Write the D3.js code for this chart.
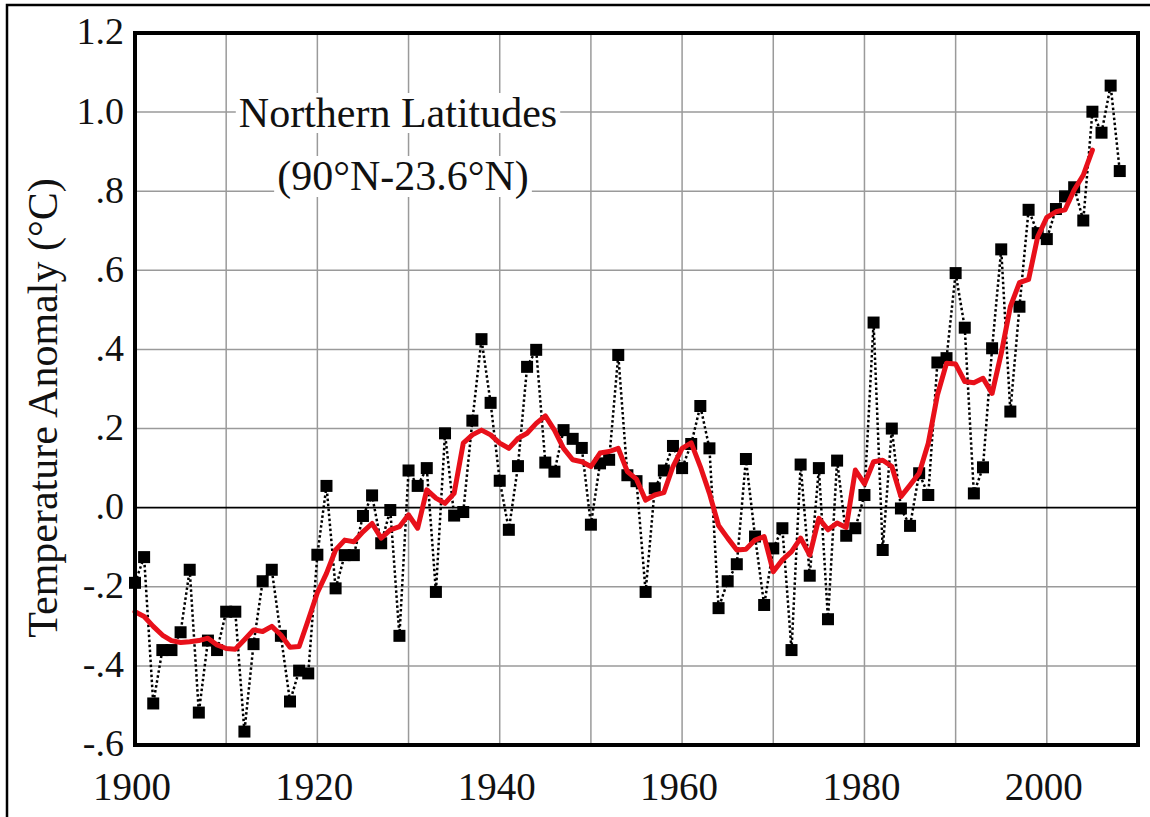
<!DOCTYPE html>
<html>
<head>
<meta charset="utf-8">
<script src="https://d3js.org/d3.v7.min.js"></script>
<style>
  body { margin: 0; background: #fff; }
  svg text { font-family: "Liberation Serif", "Times New Roman", serif; fill: #111; }
</style>
</head>
<body>
<div id="chart"></div>
<script>
// annual anomalies, 1900 .. 2008
var startYear = 1900;
var annual = [
  -0.19, -0.125, -0.495, -0.36, -0.36, -0.315, -0.157, -0.518, -0.336, -0.36,
  -0.263, -0.263, -0.566, -0.345, -0.186, -0.157, -0.324, -0.49, -0.412, -0.419,
  -0.119, 0.055, -0.204, -0.12, -0.12, -0.021, 0.031, -0.09, -0.006, -0.324,
  0.094, 0.055, 0.10, -0.213, 0.188, -0.02, -0.011, 0.22, 0.426, 0.265,
  0.068, -0.056, 0.105, 0.356, 0.399, 0.114, 0.091, 0.196, 0.174, 0.151,
  -0.043, 0.112, 0.121, 0.386, 0.082, 0.067, -0.213, 0.049, 0.094, 0.156,
  0.10, 0.161, 0.257, 0.15, -0.254, -0.186, -0.143, 0.123, -0.073, -0.246,
  -0.103, -0.052, -0.36, 0.109, -0.172, 0.10, -0.282, 0.119, -0.071, -0.052,
  0.032, 0.468, -0.107, 0.20, -0.002, -0.046, 0.087, 0.032, 0.367, 0.378,
  0.593, 0.455, 0.036, 0.102, 0.403, 0.653, 0.243, 0.508, 0.753, 0.694,
  0.679, 0.755, 0.787, 0.81, 0.726, 1.001, 0.948, 1.067, 0.851
];

// smoothed curve (red), 1900 .. 2005
var smooth = [
  -0.263, -0.275, -0.30, -0.322, -0.336, -0.341, -0.339, -0.336, -0.33, -0.347,
  -0.356, -0.358, -0.334, -0.309, -0.313, -0.30, -0.322, -0.353, -0.351, -0.284,
  -0.215, -0.166, -0.107, -0.082, -0.086, -0.061, -0.04, -0.077, -0.056, -0.048,
  -0.018, -0.052, 0.045, 0.024, 0.011, 0.036, 0.163, 0.184, 0.196, 0.184,
  0.163, 0.15, 0.175, 0.188, 0.213, 0.232, 0.196, 0.15, 0.121, 0.116,
  0.104, 0.138, 0.142, 0.15, 0.091, 0.072, 0.019, 0.032, 0.038, 0.104,
  0.15, 0.164, 0.104, 0.036, -0.045, -0.077, -0.107, -0.105, -0.082, -0.073,
  -0.162, -0.132, -0.111, -0.077, -0.12, -0.027, -0.056, -0.039, -0.05, 0.095,
  0.06, 0.116, 0.12, 0.104, 0.028, 0.057, 0.087, 0.163, 0.285, 0.365,
  0.363, 0.319, 0.316, 0.327, 0.289, 0.39, 0.508, 0.569, 0.577, 0.685,
  0.734, 0.748, 0.753, 0.803, 0.841, 0.904
];

var xTicks = [1900, 1920, 1940, 1960, 1980, 2000];
var xGrid = [1910, 1920, 1930, 1940, 1950, 1960, 1970, 1980, 1990, 2000];
var yTicks = [-0.6, -0.4, -0.2, 0, 0.2, 0.4, 0.6, 0.8, 1.0, 1.2];
var yTickLabels = ["-.6", "-.4", "-.2", ".0", ".2", ".4", ".6", ".8", "1.0", "1.2"];
var titleLines = ["Northern Latitudes", "(90\u00b0N-23.6\u00b0N)"];
var yTitle = "Temperature Anomaly (\u00b0C)";

var margin = { top: 33, right: 12, bottom: 72, left: 135 },
    W = 1150, H = 817,
    width = W - margin.left - margin.right,
    height = H - margin.top - margin.bottom;

var x = d3.scaleLinear().domain([1900, 2010]).range([0, width]);
var y = d3.scaleLinear().domain([-0.6, 1.2]).range([height, 0]);

var svg = d3.select('#chart').append('svg')
    .attr('width', W)
    .attr('height', H);

// outer frame
svg.append('rect')
    .attr('x', 7).attr('y', 5)
    .attr('width', W + 20).attr('height', H + 20)
    .attr('fill', 'none')
    .attr('stroke', '#000')
    .attr('stroke-width', 2.5);

var plot = svg.append('g')
    .attr('transform', `translate(${margin.left}, ${margin.top})`);

// grid
plot.append('g').selectAll('line.vg')
    .data(xGrid).enter().append('line')
    .attr('x1', d => x(d)).attr('x2', d => x(d))
    .attr('y1', 0).attr('y2', height)
    .attr('stroke', '#9a9a9a').attr('stroke-width', 1.5);

plot.append('g').selectAll('line.hg')
    .data(yTicks.filter(d => d !== 0 && d > -0.6 && d < 1.2)).enter().append('line')
    .attr('x1', 0).attr('x2', width)
    .attr('y1', d => y(d)).attr('y2', d => y(d))
    .attr('stroke', '#9a9a9a').attr('stroke-width', 1.5);

// title with white box behind each line
var titleG = svg.append('g');
var titleY = [127, 190];
var titleX = [398, 403];
titleLines.forEach(function (t, i) {
    var tx = titleG.append('text')
        .attr('x', titleX[i]).attr('y', titleY[i])
        .attr('text-anchor', 'middle')
        .attr('font-size', 42)
        .text(t);
    var bb = tx.node().getBBox();
    titleG.insert('rect', 'text')
        .attr('x', bb.x - 3).attr('y', bb.y + 3)
        .attr('width', bb.width + 6).attr('height', bb.height - 6)
        .attr('fill', '#fff');
});

// zero line
plot.append('line')
    .attr('x1', 0).attr('x2', width)
    .attr('y1', y(0)).attr('y2', y(0))
    .attr('stroke', '#000').attr('stroke-width', 1.6);

// dotted annual line
var line = d3.line()
    .x((d, i) => x(startYear + i))
    .y(d => y(d));

plot.append('path')
    .datum(annual)
    .attr('d', line)
    .attr('fill', 'none')
    .attr('stroke', '#000')
    .attr('stroke-width', 2.5)
    .attr('stroke-dasharray', '2.5,2.5');

// squares
var sq = 12;
plot.append('g').selectAll('rect')
    .data(annual).enter().append('rect')
    .attr('x', (d, i) => x(startYear + i) - sq / 2)
    .attr('y', d => y(d) - sq / 2)
    .attr('width', sq).attr('height', sq)
    .attr('fill', '#000');

// smoothed red line
plot.append('path')
    .datum(smooth)
    .attr('d', line)
    .attr('fill', 'none')
    .attr('stroke', '#e8101a')
    .attr('stroke-width', 5)
    .attr('stroke-linejoin', 'round')
    .attr('stroke-linecap', 'round');

// plot border
plot.append('rect')
    .attr('x', 0).attr('y', 0)
    .attr('width', width).attr('height', height)
    .attr('fill', 'none')
    .attr('stroke', '#000')
    .attr('stroke-width', 4);

// y tick labels
svg.append('g').selectAll('text')
    .data(yTicks).enter().append('text')
    .attr('x', 124)
    .attr('y', d => margin.top + y(d))
    .attr('dy', '0.3em')
    .attr('text-anchor', 'end')
    .attr('font-size', 38)
    .text((d, i) => yTickLabels[i]);

// x tick labels
svg.append('g').selectAll('text')
    .data(xTicks).enter().append('text')
    .attr('x', d => margin.left + x(d) - 3)
    .attr('y', 800)
    .attr('text-anchor', 'middle')
    .attr('font-size', 39)
    .text(d => d);

// y axis title
svg.append('text')
    .attr('transform', 'translate(57, 408) rotate(-90)')
    .attr('text-anchor', 'middle')
    .attr('font-size', 42)
    .text(yTitle);
</script>
</body>
</html>
